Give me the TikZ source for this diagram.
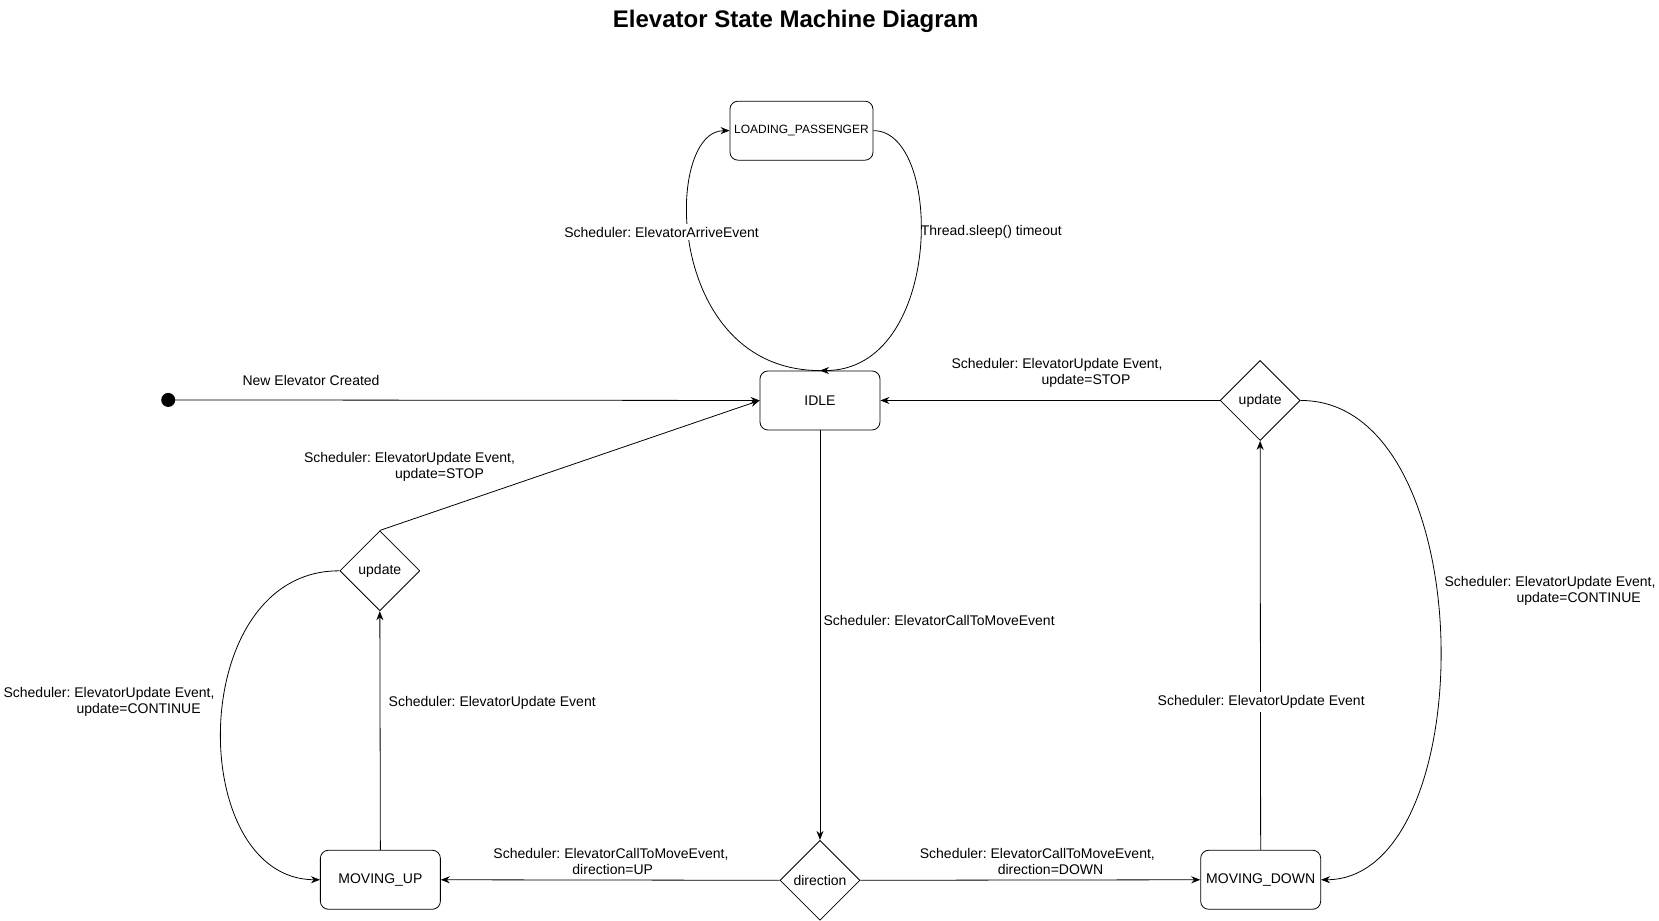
\documentclass[tikz,border=0pt]{standalone}
\usepackage{fontspec}
\setmainfont{Liberation Sans}
\frenchspacing
\usetikzlibrary{shapes,arrows.meta,calc}
\tikzset{
         state/.style={draw,rounded corners=8pt,minimum width=120pt,minimum height=59pt,font=\fontsize{14}{16}\selectfont},
         choice/.style={draw,diamond,aspect=1,inner sep=0pt,minimum width=80pt,minimum height=80pt,font=\fontsize{14}{16}\selectfont},
         edge/.style={-{Stealth[length=9pt,width=7pt]},line width=0.8pt},
         lbl/.style={inner sep=0pt,align=left,font=\fontsize{14}{16}\selectfont}
        }

\begin{document}
\begin{tikzpicture}[x=1.058pt,y=-1.058pt,line width=0.8pt]
      \useasboundingbox (0,0) rectangle (1568,870);
      \node[font=\fontsize{24}{27}\selectfont\bfseries] (title) at (752,20) {Elevator State Machine Diagram}; % title
      \fill (159,378) circle (7pt) coordinate (start); % initial state
      \node[state,minimum width=143pt,font=\fontsize{12}{14}\selectfont] (loading) at (757.5,123.5) {LOADING\_PASSENGER};
      \node[state] (idle) at (775,378.5) {IDLE};
      \node[state] (up) at (359.5,831.5) {MOVING\_UP};
      \node[state] (down) at (1191.5,831.5) {MOVING\_DOWN};
      \node[choice] (dir) at (775,832) {direction};
      \node[choice] (updl) at (359,539.5) {update};
      \node[choice] (updr) at (1191,378.5) {update};
      \draw[edge] (start) -- (idle.west); % creation
      \draw[edge] (idle.north) .. controls (627,350) and (627,123) .. (loading.west); % arrive
      \draw[edge] (loading.east) .. controls (892,123) and (892,350) .. (idle.north); % timeout
      \draw[edge] (updr.west) -- (idle.east); % stop from down
      \draw[edge] (idle.south) -- (dir.north); % call to move
      \draw[edge] (dir.west) -- (up.east); % go up
      \draw[edge] (dir.east) -- (down.west); % go down
      \draw[edge] (up.north) -- (updl.south); % update while up
      \draw[edge] (updl.north) -- (idle.west); % stop from up
      \draw[edge] (updl.west) .. controls (175,539) and (175,831) .. (up.west); % continue up
      \draw[edge] (down.north) -- (updr.south); % update while down
      \draw[edge] (updr.east) .. controls (1402,378) and (1402,831) .. (down.east); % continue down
      % labels
      \node[lbl] (lnew) at (294,359.5) {New Elevator Created};
      \node[lbl,anchor=west,fill=white,inner ysep=3pt] (larr) at (533,219.5) {Scheduler: ElevatorArriveEvent};
      \node[lbl,anchor=west] (lsleep) at (870,219.5) {Thread.sleep() timeout};
      \node[lbl,anchor=west] (lstopr) at (899,352.5) {Scheduler: ElevatorUpdate Event,\\\hspace*{90pt}update=STOP};
      \node[lbl,anchor=west] (lstopl) at (287,441.5) {Scheduler: ElevatorUpdate Event,\\\hspace*{91pt}update=STOP};
      \node[lbl,anchor=west] (lcall) at (778,586.5) {Scheduler: ElevatorCallToMoveEvent};
      \node[lbl,anchor=west] (lcontl) at (3,663.5) {Scheduler: ElevatorUpdate Event,\\\hspace*{73pt}update=CONTINUE};
      \node[lbl,anchor=west] (lcontr) at (1365,558.5) {Scheduler: ElevatorUpdate Event,\\\hspace*{72pt}update=CONTINUE};
      \node[lbl,anchor=west] (lupdu) at (367,664.5) {Scheduler: ElevatorUpdate Event};
      \node[lbl,fill=white,inner ysep=3pt] (lupdd) at (1192,663.5) {Scheduler: ElevatorUpdate Event};
      \node[lbl,anchor=west] (lup) at (466,814.5) {Scheduler: ElevatorCallToMoveEvent,\\\hspace*{79pt}direction=UP};
      \node[lbl,anchor=west] (ldown) at (869,814.5) {Scheduler: ElevatorCallToMoveEvent,\\\hspace*{78pt}direction=DOWN};
\end{tikzpicture}
\end{document}
